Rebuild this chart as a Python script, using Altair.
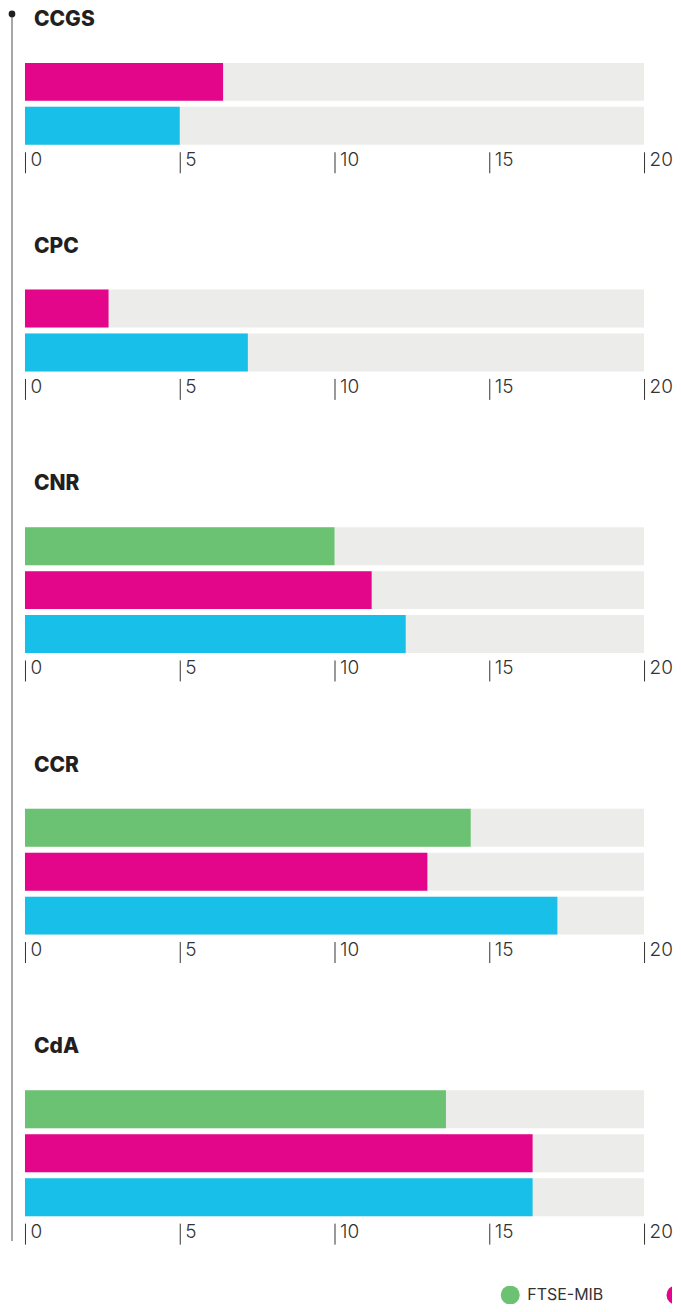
import altair as alt
import pandas as pd

panels = ["CCGS", "CPC", "CNR", "CCR", "CdA"]
series = ["FTSE-MIB", "Settore finanziario", "Società"]
colors = ["#6cc273", "#e3068a", "#17bfe9"]
ftse_vals = [None, None, 10.0, 14.4, 13.6]
fin_vals = [6.4, 2.7, 11.2, 13.0, 16.4]
soc_vals = [5.0, 7.2, 12.3, 17.2, 16.4]
tick_values = [0, 5, 10, 15, 20]
axis_max = 20
legend_pos = [0, 1, 2]

FONT_T = "Inter"
FONT_L = "Inter"
W = 620
STEP = 44
BAR = 38
LEG_W = 648
LEG_FIRST = 486
LEG_GAP = 166

color_scale = alt.Scale(domain=series, range=colors)
xscale = alt.Scale(domain=[0, axis_max], nice=False, zero=True)
xaxis = alt.Axis(values=tick_values, domain=False, grid=False, ticks=True,
                 tickSize=21, tickColor="#333333", tickWidth=1, offset=7,
                 labelAlign="left", labelBaseline="top", labelPadding=-22,
                 labelOffset=5, labelFlush=False, labelOverlap=False,
                 labelFont=FONT_L, labelFontSize=19, labelFontWeight=300,
                 labelColor="#333333", title=None)


def panel(i):
    rows = []
    for s, vals in zip(series, [ftse_vals, fin_vals, soc_vals]):
        if vals[i] is not None:
            rows.append({"series": s, "value": vals[i], "full": axis_max})
    df = pd.DataFrame(rows)
    present = list(df["series"])
    n = len(present)
    h = n * BAR + (n - 1) * (STEP - BAR)
    yenc = alt.Y("series:N", axis=None,
                 scale=alt.Scale(domain=present, paddingInner=(STEP - BAR) / STEP, paddingOuter=0))
    base = alt.Chart(df)
    bg = base.mark_bar(color="#ececea").encode(
        x=alt.X("full:Q", scale=xscale, axis=xaxis), y=yenc)
    fg = base.mark_bar().encode(
        x=alt.X("value:Q", scale=xscale, axis=xaxis), y=yenc,
        color=alt.Color("series:N", scale=color_scale, legend=None))
    return alt.layer(bg, fg).properties(
        width=W, height=h,
        title=alt.TitleParams(text=panels[i], anchor="start", frame="group", dx=9,
                              offset=16, baseline="alphabetic", font=FONT_T,
                              fontSize=21, fontWeight=800, color="#231f20"))


# manual legend, clipped at the right edge like the reference
leg_df = pd.DataFrame({"series": series, "pos": legend_pos})
leg_x = alt.X("pos:Q", axis=None,
              scale=alt.Scale(domain=[-LEG_FIRST / LEG_GAP, (LEG_W - LEG_FIRST) / LEG_GAP],
                              nice=False, zero=False))
leg_base = alt.Chart(leg_df)
legend = alt.layer(
    leg_base.mark_circle(size=361, opacity=1, clip=True).encode(
        x=leg_x, y=alt.value(9),
        color=alt.Color("series:N", scale=color_scale, legend=None)),
    leg_base.mark_text(align="left", baseline="middle", dx=17, clip=True,
                       font=FONT_L, fontSize=16, color="#333333").encode(
        x=leg_x, y=alt.value(9), text="series:N"),
).properties(width=LEG_W, height=18)

line_df = pd.DataFrame({"k": [0]})
line = alt.layer(
    alt.Chart(line_df).mark_rule(color="#8a8a8a", strokeWidth=1.5).encode(
        x=alt.value(0), y=alt.value(-49), y2=alt.value(1180)),
    alt.Chart(line_df).mark_point(filled=True, color="#231f20", size=45, opacity=1).encode(
        x=alt.value(0), y=alt.value(-49)),
).properties(width=1, height=1)

p = [panel(i) for i in range(len(panels))]
inner = alt.vconcat(*p[1:], spacing=73)
col = alt.vconcat(p[0], inner, spacing=62)
col2 = alt.vconcat(col, legend, spacing=41)

chart = alt.hconcat(line, col2, spacing=8).resolve_scale(
    y="independent").properties(padding=0).configure_view(stroke=None)

chart.save("out.html", embed_options={"renderer": "svg", "actions": False})
